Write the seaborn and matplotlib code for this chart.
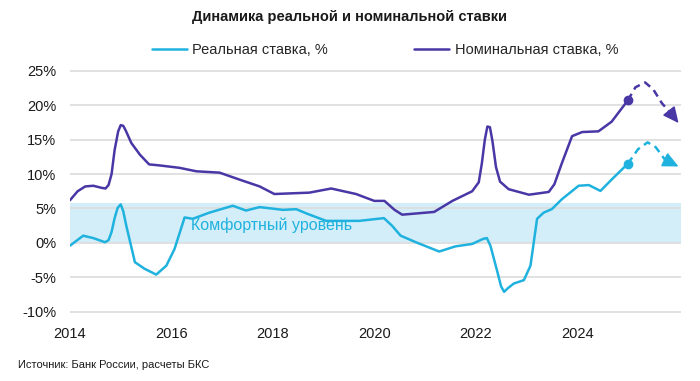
import matplotlib
matplotlib.use('Agg')
import matplotlib.pyplot as plt
import seaborn as sns

# Nominal key rate (solid part, then forecast)
nom_years = [2014.0, 2014.15, 2014.3, 2014.46, 2014.62, 2014.7, 2014.76, 2014.82, 2014.88, 2014.95,
             2015.0, 2015.05, 2015.1, 2015.21, 2015.38, 2015.56, 2015.77, 2016.16, 2016.49, 2016.95,
             2017.34, 2017.74, 2018.03, 2018.72, 2019.15, 2019.64, 2020.0, 2020.2, 2020.4, 2020.55,
             2021.18, 2021.54, 2021.93, 2022.06, 2022.12, 2022.18, 2022.23, 2022.28, 2022.33, 2022.4,
             2022.48, 2022.65, 2023.05, 2023.44, 2023.55, 2023.7, 2023.9, 2024.1, 2024.42, 2024.68,
             2025.0]
nom_rate = [6.2, 7.5, 8.2, 8.3, 8.0, 7.9, 8.4, 10.0, 13.5, 16.2,
            17.1, 17.0, 16.3, 14.5, 12.8, 11.4, 11.25, 10.9, 10.4, 10.2,
            9.2, 8.2, 7.1, 7.3, 7.9, 7.1, 6.1, 6.1, 4.8, 4.1,
            4.5, 6.1, 7.5, 8.8, 11.5, 15.0, 16.9, 16.8, 14.8, 11.0,
            8.9, 7.8, 7.0, 7.4, 8.5, 11.6, 15.5, 16.1, 16.2, 17.6,
            20.7]
nom_fc_years = [2025.0, 2025.15, 2025.34, 2025.5, 2025.67, 2025.86, 2026.0]
nom_fc_rate = [20.7, 22.6, 23.3, 22.3, 20.3, 18.7, 17.4]

# Real rate
real_years = [2014.0, 2014.26, 2014.46, 2014.69, 2014.76, 2014.82, 2014.88, 2014.94, 2015.0, 2015.05,
              2015.11, 2015.28, 2015.47, 2015.7, 2015.9, 2016.06, 2016.26, 2016.42, 2016.75, 2017.21,
              2017.47, 2017.74, 2018.2, 2018.46, 2018.69, 2019.05, 2019.7, 2020.19, 2020.35, 2020.52,
              2020.82, 2021.28, 2021.6, 2021.93, 2022.15, 2022.22, 2022.29, 2022.42, 2022.5, 2022.56,
              2022.63, 2022.75, 2022.95, 2023.08, 2023.21, 2023.34, 2023.5, 2023.7, 2024.03, 2024.23,
              2024.46, 2024.68, 2025.0]
real_rate = [-0.4, 1.05, 0.7, 0.1, 0.4, 1.6, 3.6, 5.1, 5.6, 4.6,
             2.5, -2.8, -3.75, -4.6, -3.3, -0.9, 3.7, 3.5, 4.4, 5.4,
             4.7, 5.2, 4.8, 4.9, 4.2, 3.2, 3.2, 3.6, 2.5, 1.05,
             0.1, -1.25, -0.5, -0.15, 0.6, 0.7, -0.4, -4.0, -6.3, -7.1,
             -6.6, -5.9, -5.4, -3.3, 3.5, 4.4, 4.9, 6.35, 8.3, 8.4,
             7.55, 9.2, 11.5]
real_fc_years = [2025.0, 2025.2, 2025.39, 2025.55, 2025.72, 2025.86, 2026.0]
real_fc_rate = [11.5, 13.6, 14.6, 13.9, 12.2, 11.6, 11.1]

comfort_low, comfort_high = 0, 5.8
x_ticks = [2014, 2016, 2018, 2020, 2022, 2024]
y_ticks = [-10, -5, 0, 5, 10, 15, 20, 25]

NOM_C = '#4a37a6'
REAL_C = '#20b2de'
BAND_C = '#d3eef9'

sns.set_theme(style='white')
plt.rcParams['font.family'] = ['Liberation Sans', 'DejaVu Sans']

fig = plt.figure(figsize=(7, 3.81), dpi=100)
ax = fig.add_axes([0.1, 0.178, 0.873, 0.64])

ax.axhspan(comfort_low, comfort_high, color=BAND_C, zorder=0, lw=0)
for t in y_ticks:
    ax.axhline(t, color='#dcdcdc', lw=1.2, zorder=1)

sns.lineplot(x=nom_years, y=nom_rate, ax=ax, color=NOM_C, lw=1.8, sort=False, zorder=3)
sns.lineplot(x=real_years, y=real_rate, ax=ax, color=REAL_C, lw=1.8, sort=False, zorder=3)

for yrs, vals, c in [(nom_fc_years, nom_fc_rate, NOM_C), (real_fc_years, real_fc_rate, REAL_C)]:
    ax.plot(yrs[:-1], vals[:-1], color=c, lw=1.8, ls=(0, (3, 2)), zorder=3)
    ax.plot(yrs[0], vals[0], 'o', color=c, ms=6, zorder=4)
    ax.annotate('', xy=(yrs[-1], vals[-1]), xytext=(yrs[-2], vals[-2]),
                arrowprops=dict(arrowstyle='-|>,head_length=0.8,head_width=0.38',
                                color=c, lw=1.2, shrinkA=0, shrinkB=0), zorder=4)

ax.text(2016.38, 2.6, 'Комфортный уровень', color=REAL_C, fontsize=11.5, va='center', ha='left', zorder=5)

ax.set_xlim(2014, 2026.05)
ax.set_ylim(-10.2, 25.2)
ax.set_xticks(x_ticks)
ax.set_xticklabels([str(t) for t in x_ticks], fontsize=10.5)
ax.set_yticks(y_ticks)
ax.set_yticklabels([f'{t}%' for t in y_ticks], fontsize=10.5)
ax.tick_params(axis='x', length=0, pad=10, colors='#1a1a1a')
ax.tick_params(axis='y', length=0, pad=10, colors='#1a1a1a')
ax.set_xlabel('')
ax.set_ylabel('')
for s in ax.spines.values():
    s.set_visible(False)

fig.text(0.5, 0.956, 'Динамика реальной и номинальной ставки', ha='center', va='center',
         fontsize=10.5, fontweight='bold', color='#1a1a1a')

# legend
handles = [plt.Line2D([], [], color=REAL_C, lw=1.8), plt.Line2D([], [], color=NOM_C, lw=1.8)]
fig.legend(handles, ['Реальная ставка, %', 'Номинальная ставка, %'], loc='center',
           bbox_to_anchor=(0.55, 0.868), ncol=2, frameon=False, fontsize=10.5,
           handlelength=2.4, columnspacing=5.9, handletextpad=0.4)

fig.text(0.026, 0.042, 'Источник: Банк России, расчеты БКС', ha='left', va='center',
         fontsize=8, color='#1a1a1a')

fig.savefig('out.png', dpi=100)
